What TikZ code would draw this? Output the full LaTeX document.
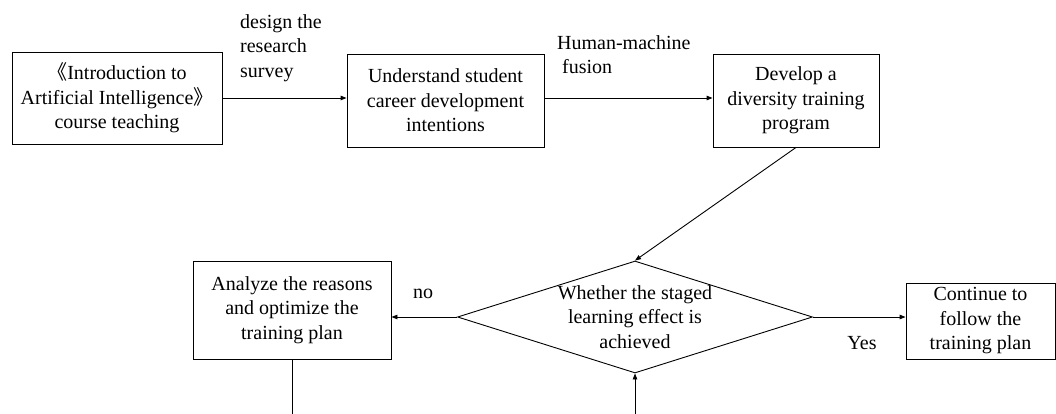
\documentclass[tikz,border=0pt]{standalone}
\usepackage{fontspec}
\setmainfont{Liberation Serif}
\newfontfamily\cjk{Noto Sans CJK SC}
\usepackage{xcolor}
\usepackage{tikz}
\usetikzlibrary{arrows.meta,positioning,shapes.geometric,calc}

\begin{document}
\begin{tikzpicture}[
  x=1pt, y=-1pt,
  every node/.style={font=\rmfamily\fontsize{20}{24.5}\selectfont, align=center},
  box/.style={rectangle, draw, line width=0.9pt, inner sep=2pt},
  decision/.style={diamond, draw, line width=0.9pt, inner sep=0pt, minimum width=355pt, minimum height=112pt},
  note/.style={align=left, inner sep=0pt, anchor=north west},
  flow/.style={draw, line width=0.9pt, -{Triangle[length=6pt, width=4.5pt]}}
]
  \useasboundingbox (0,0) rectangle (1056,414);

  % top row
  \node[box, minimum width=210pt, minimum height=92pt] (course) at (117,98) {{\cjk 《}Introduction to\\Artificial Intelligence{\cjk 》}\\course teaching};
  \node[box, minimum width=197pt, minimum height=93pt] (career) at (445.5,100.5) {Understand student\\career development\\intentions};
  \node[box, minimum width=166pt, minimum height=93pt] (program) at (796,100.5) {Develop a\\diversity training\\program};

  % decision row
  \node[decision] (check) at (635,317) {};
  \node (checktxt) at (check.center) {Whether the staged\\learning effect is\\achieved};
  \node[box, minimum width=198pt, minimum height=98pt] (analyze) at (292,310) {Analyze the reasons\\and optimize the\\training plan};
  \node[box, minimum width=149pt, minimum height=76pt] (follow) at (980.5,321) {Continue to\\follow the\\training plan};

  % edge labels
  \node[note] (survey) at (240,14) {design the\\research\\survey};
  \node[note] (fusion) at (557,35) {Human-machine\\\hspace{5pt}fusion};
  \node (no) at (423,294) {no};
  \node (yes) at (862,343) {Yes};

  \coordinate (outa) at (292,414);
  \coordinate (outb) at (635,414);

  \draw[flow] (course.east |- 0,98) -- (career.west |- 0,98);
  \draw[flow] (career.east |- 0,98) -- (program.west |- 0,98);
  \draw[flow] (program.south) -- (check.north);
  \draw[flow] (check.west) -- (analyze.east |- check.west);
  \draw[flow] (check.east) -- (follow.west |- check.east);
  \draw[line width=0.9pt] (analyze.south) -- (outa);
  \draw[flow] (outb) -- (check.south);
\end{tikzpicture}
\end{document}
